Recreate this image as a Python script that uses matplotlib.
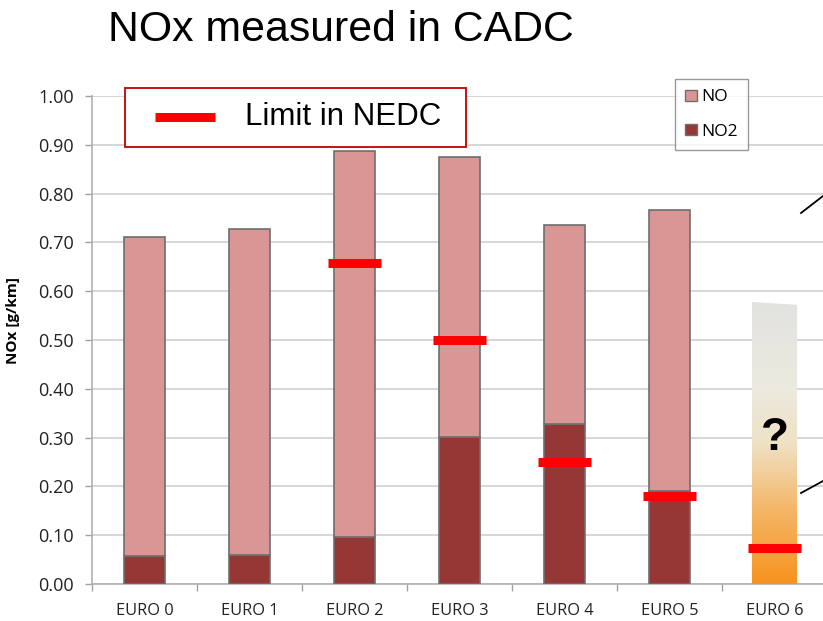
import numpy as np
import matplotlib.pyplot as plt
from matplotlib.colors import LinearSegmentedColormap
from matplotlib.patches import Polygon, Rectangle
from matplotlib.lines import Line2D

categories = ["EURO 0", "EURO 1", "EURO 2", "EURO 3", "EURO 4", "EURO 5", "EURO 6"]
no2 = [0.057, 0.059, 0.096, 0.301, 0.328, 0.190]
nox_total = [0.711, 0.727, 0.887, 0.875, 0.736, 0.766]
no = [t - d for t, d in zip(nox_total, no2)]
limits = [None, None, 0.658, 0.500, 0.250, 0.180, 0.074]
euro6_guess = 0.578
yticks = [0.0, 0.1, 0.2, 0.3, 0.4, 0.5, 0.6, 0.7, 0.8, 0.9, 1.0]

C_NO = "#D99694"
C_NO2 = "#953735"
C_EDGE = "#6E6E6E"
W, H = 823, 621

fig = plt.figure(figsize=(W / 100, H / 100), dpi=100)
fig.patch.set_facecolor("white")
ax = fig.add_axes([92 / W, 1 - 584 / H, (827 - 92) / W, (584 - 96) / H])

x = np.arange(len(no2))
bw = 0.39
ax.bar(x, no2, width=bw, color=C_NO2, edgecolor=C_EDGE, linewidth=1.2, zorder=3)
ax.bar(x, no, width=bw, bottom=no2, color=C_NO, edgecolor=C_EDGE, linewidth=1.2, zorder=3)

# uncertain EURO 6 bar drawn as an orange-to-grey gradient
cmap = LinearSegmentedColormap.from_list(
    "euro6", [(0.0, "#F7931E"), (0.27, "#F4B76A"), (0.5, "#EFE2C6"),
              (0.7, "#ECEADF"), (1.0, "#E2E2E0")])
x6 = 6
grad = np.linspace(0, 1, 256).reshape(-1, 1)
im = ax.imshow(grad, cmap=cmap, aspect="auto", origin="lower",
               extent=[x6 - 0.215, x6 + 0.215, 0, euro6_guess], zorder=3)
clip = Polygon([(x6 - 0.215, 0), (x6 + 0.215, 0), (x6 + 0.215, euro6_guess - 0.006),
                (x6 - 0.215, euro6_guess)], closed=True, transform=ax.transData)
im.set_clip_path(clip)
ax.text(x6, 0.30, "?", ha="center", va="center", fontsize=33, fontweight="bold",
        family="Liberation Sans", zorder=5)

# NEDC limit markers
for i, lim in enumerate(limits):
    if lim is not None:
        ax.plot([i - 0.25, i + 0.25], [lim, lim], color="#FF0000", linewidth=6.5,
                solid_capstyle="butt", zorder=4)

ax.set_xlim(-0.5, 6.5)
ax.set_ylim(0, 1.0)
ax.set_yticks(yticks)
ax.set_yticklabels([f"{v:.2f}" for v in yticks])
ax.set_xticks(np.arange(len(categories)))
ax.set_xticklabels(categories)
ax.set_xticks(np.arange(-0.5, 7.0, 1.0), minor=True)
ax.tick_params(axis="x", which="major", length=0, pad=14, labelsize=11.8, labelcolor="#222222")
ax.tick_params(axis="x", which="minor", length=5, color="#A0A0A0", width=1)
ax.tick_params(axis="y", length=5, color="#A0A0A0", width=1, pad=8, labelsize=13,
               labelcolor="#222222")
for lbl in ax.get_xticklabels() + ax.get_yticklabels():
    lbl.set_family("Open Sans")
ax.grid(axis="y", color="#D0D0D0", linewidth=1.2, zorder=0)
ax.set_axisbelow(True)
for s in ["top", "right"]:
    ax.spines[s].set_visible(False)
ax.spines["left"].set_color("#B0B0B0")
ax.spines["bottom"].set_color("#B0B0B0")
ax.spines["left"].set_linewidth(1.2)
ax.spines["bottom"].set_linewidth(1.2)
ax.set_ylabel("NOx [g/km]", fontsize=11, fontweight="bold", family="Open Sans")
ax.yaxis.set_label_coords((20 - 92) / 735, (584 - 320) / 488)

# series legend
handles = [Rectangle((0, 0), 1, 1, fc=C_NO, ec=C_EDGE, lw=1),
           Rectangle((0, 0), 1, 1, fc=C_NO2, ec=C_EDGE, lw=1)]
leg = ax.legend(handles=handles, labels=["NO", "NO2"],
                loc="upper left", bbox_to_anchor=((675 - 92) / 735, 1 + 17 / 488),
                borderaxespad=0, frameon=True, fancybox=False, edgecolor="#808080",
                handlelength=0.65, handleheight=0.65, handletextpad=0.25,
                labelspacing=1.05, borderpad=0.6,
                prop={"family": "Open Sans", "size": 12.5})
leg.get_frame().set_linewidth(1.0)
leg.set_zorder(6)

# limit legend box
fig.patches.append(Rectangle((125 / W, 1 - 147 / H), (466 - 125) / W, (147 - 88) / H,
                             transform=fig.transFigure, facecolor="white",
                             edgecolor="#C00000", linewidth=1.3, zorder=6))
fig.lines.append(Line2D([155 / W, 215 / W], [1 - 117 / H, 1 - 117 / H],
                        transform=fig.transFigure, color="#FF0000", linewidth=6.5,
                        solid_capstyle="butt", zorder=7))
fig.text(245 / W, 1 - 117 / H, "Limit in NEDC", fontsize=22.5, va="center", ha="left",
         family="Liberation Sans", zorder=7)

# callout lines leading off the right edge
for (x0, y0, x1, y1) in [(801, 213, 823, 196), (801, 493, 823, 481)]:
    fig.lines.append(Line2D([x0 / W, x1 / W], [1 - y0 / H, 1 - y1 / H],
                            transform=fig.transFigure, color="black", linewidth=1.3))

fig.text(108 / W, 1 - 30 / H, "NOx measured in CADC", fontsize=30.8, va="center",
         ha="left", family="Liberation Sans")

fig.savefig("out.png", dpi=100)
